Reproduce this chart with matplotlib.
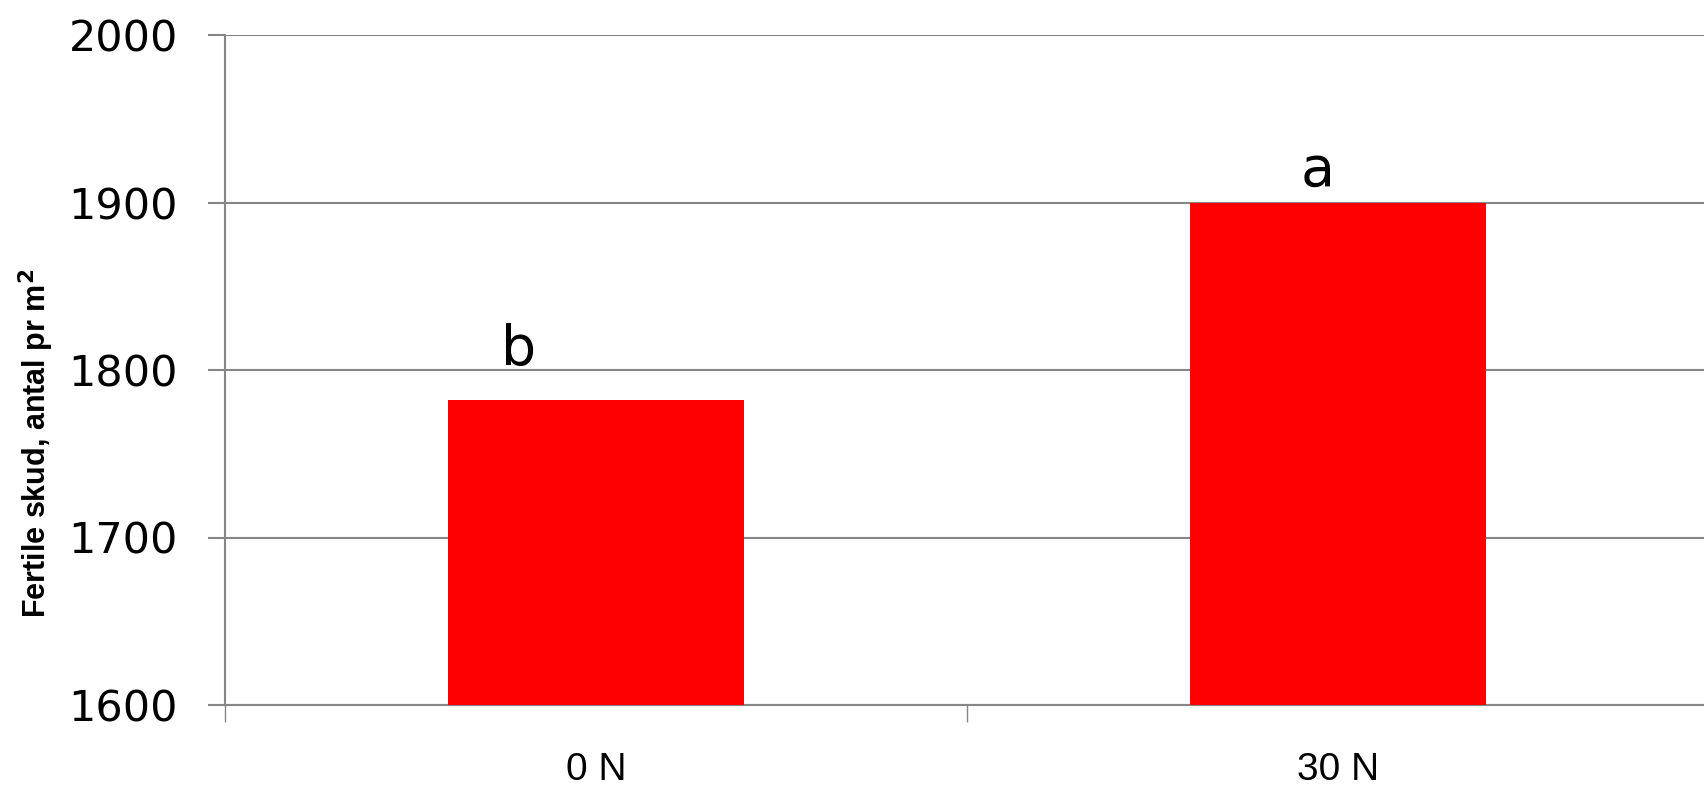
import matplotlib
matplotlib.use("Agg")
import matplotlib.pyplot as plt
import numpy as np

categories = ["0 N", "30 N"]
values = [1782, 1900]
letters = ["b", "a"]
letter_offsets = [-0.104, -0.027]
letter_gaps = [21, 10]
y_ticks = [1600, 1700, 1800, 1900, 2000]

GRAY = "#868686"

fig = plt.figure(figsize=(17.04, 7.86), dpi=100)
ax = fig.add_axes([225 / 1704, 81 / 786, 1484 / 1704, 670 / 786])

x = np.arange(len(categories))
ax.bar(x, np.array(values) - 1600, bottom=1600, width=0.4, color="#ff0000", zorder=3)

for xi, v, lab, off, gap in zip(x, values, letters, letter_offsets, letter_gaps):
    ax.text(xi + off, v + gap, lab, ha="center", va="baseline", fontsize=40,
            family="DejaVu Sans", color="black")

ax.set_xlim(-0.5, 1.5)
ax.set_ylim(1600, 2000)
ax.set_yticks(y_ticks)
ax.set_yticklabels([str(t) for t in y_ticks], fontsize=31, family="DejaVu Sans")
ax.grid(axis="y", color=GRAY, linewidth=1.5, zorder=0)

ax.set_xticks(x)
ax.set_xticklabels(categories, fontsize=28, family="Liberation Sans")
ax.set_xticks([-0.5, 0.5, 1.5], minor=True)
ax.tick_params(axis="x", which="major", length=0, pad=34)
ax.tick_params(axis="x", which="minor", length=12, width=1, color=GRAY, direction="out")
ax.tick_params(axis="y", length=12, width=1.5, color=GRAY, pad=22)

for side in ["top", "right"]:
    ax.spines[side].set_visible(False)
for side in ["left", "bottom"]:
    ax.spines[side].set_color(GRAY)
    ax.spines[side].set_linewidth(1.5)

fig.text(36 / 1704, 1 - 443 / 786, "Fertile skud, antal pr m$^\\mathbf{2}$", rotation=90,
         ha="center", va="center", fontsize=22, fontweight="bold", family="Liberation Sans")

fig.savefig("out.png", dpi=100)
